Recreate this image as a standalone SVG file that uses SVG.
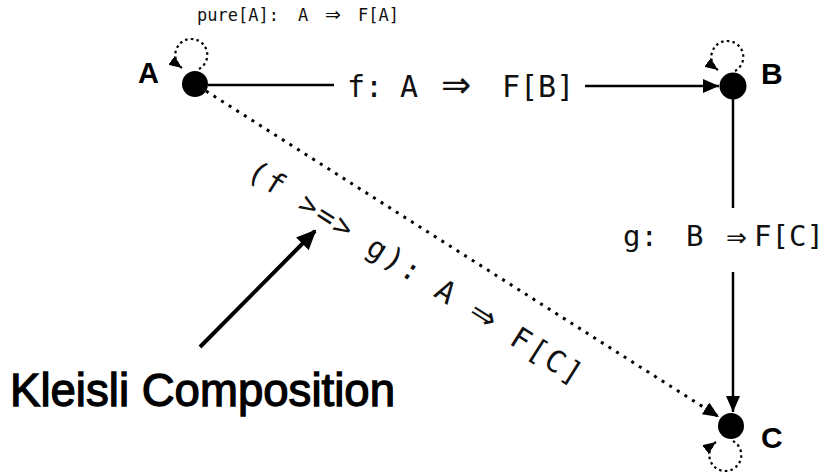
<svg xmlns="http://www.w3.org/2000/svg" width="833" height="475" viewBox="0 0 833 475">
<style>
.mono{font-family:"DejaVu Sans Mono","Liberation Mono",monospace;fill:#111}
.arr{font-family:"DejaVu Sans",sans-serif}
.lbl{font-family:"Liberation Sans",Arial,sans-serif;font-weight:bold;fill:#000}
.edge{stroke:#000;stroke-width:2.5;fill:none}
.dot{stroke:#000;stroke-width:3;fill:none;stroke-dasharray:3 6}
.loop{stroke:#000;stroke-width:2.2;fill:none;stroke-dasharray:2.5 3.2}
.node{fill:#000}
</style>
<defs>
<marker id="ah" markerUnits="userSpaceOnUse" markerWidth="16" markerHeight="14" refX="16" refY="7" orient="auto">
<path d="M0,0 L16,7 L0,14 z" fill="#000"/>
</marker>
<marker id="ahs" markerUnits="userSpaceOnUse" markerWidth="13" markerHeight="11" refX="13" refY="5.5" orient="auto">
<path d="M0,0 L13,5.5 L0,11 z" fill="#000"/>
</marker>
<marker id="ahb" markerUnits="userSpaceOnUse" markerWidth="20" markerHeight="18" refX="18" refY="9" orient="auto">
<path d="M0,0 L20,9 L0,18 z" fill="#000"/>
</marker>
</defs>

<g id="connectors">
<line class="edge" x1="208" y1="85" x2="334" y2="85"/>
<line class="edge" x1="585" y1="86" x2="719" y2="86" marker-end="url(#ah)"/>
<line class="edge" x1="733" y1="99" x2="733" y2="208"/>
<line class="edge" x1="733" y1="272" x2="733" y2="412" marker-end="url(#ah)"/>
<line class="dot" x1="206" y1="91" x2="719" y2="417" marker-end="url(#ah)"/>
<path class="loop" d="M199,69 A16,16 0 1 0 182,68" marker-end="url(#ahs)"/>
<path class="loop" d="M735,71 A16,16 0 1 0 718,70" marker-end="url(#ahs)"/>
<path class="loop" d="M733,441 A16,16 0 1 1 716,442" marker-end="url(#ahs)"/>
<line stroke="#000" stroke-width="4" x1="200" y1="347" x2="315" y2="231" marker-end="url(#ahb)"/>
</g>

<g id="node-A">
<circle class="node" cx="195" cy="84" r="13"/>
<text class="lbl" x="138" y="83" font-size="29">A</text>
</g>
<g id="node-B">
<circle class="node" cx="733" cy="86" r="13.5"/>
<text class="lbl" x="761" y="84" font-size="30">B</text>
</g>
<g id="node-C">
<circle class="node" cx="731" cy="426" r="13"/>
<text class="lbl" x="761" y="448" font-size="30">C</text>
</g>

<g id="labels">
<text class="mono" y="21" font-size="17"><tspan x="197">pure[A]:</tspan><tspan x="298">A</tspan><tspan x="325" class="arr" font-size="19">⇒</tspan><tspan x="358">F[A]</tspan></text>
<text class="mono" y="97" font-size="30"><tspan x="347">f:</tspan><tspan x="400">A</tspan><tspan x="441" class="arr" font-size="36">⇒</tspan><tspan x="502">F[B]</tspan></text>
<text class="mono" y="246" font-size="29"><tspan x="623">g:</tspan><tspan x="686">B</tspan><tspan x="726" class="arr" font-size="25">⇒</tspan><tspan x="754">F[C]</tspan></text>
<text class="mono" font-size="30" transform="translate(245,176.5) rotate(32.4)" x="0" y="0" textLength="390" lengthAdjust="spacing">(f &gt;=&gt; g): A <tspan class="arr" font-size="32">⇒</tspan> F[C]</text>
<text x="10" y="406" font-family="'Liberation Sans',Arial,sans-serif" font-size="46" fill="#000" stroke="#000" stroke-width="1.3" textLength="385" lengthAdjust="spacingAndGlyphs">Kleisli Composition</text>
</g>
</svg>
